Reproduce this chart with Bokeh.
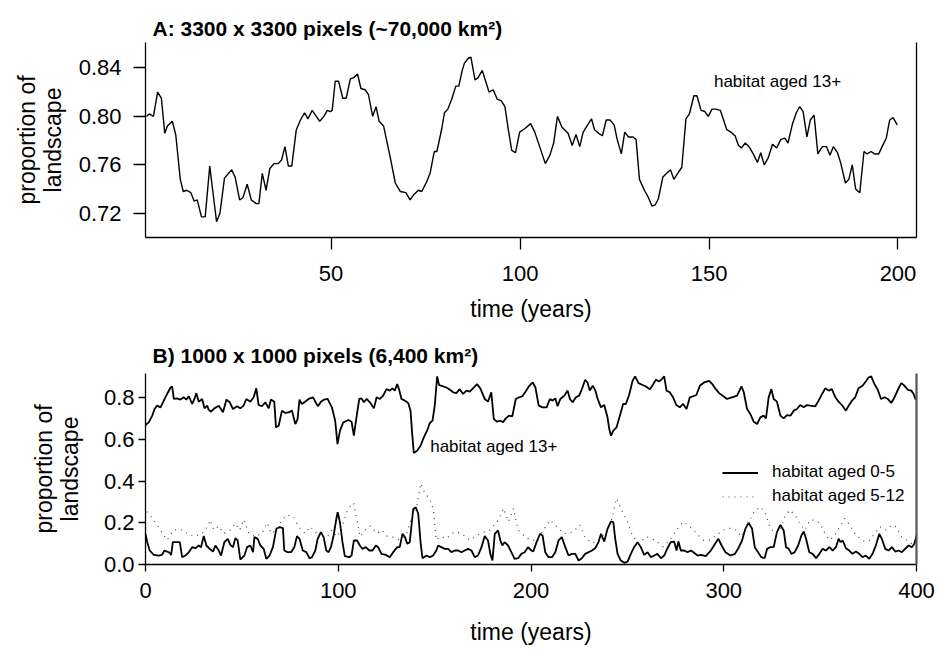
from bokeh.plotting import figure
from bokeh.models import FixedTicker, LinearAxis, Label, Legend, LegendItem, Range1d, PrintfTickFormatter
from bokeh.layouts import column
from bokeh.embed import file_html
from bokeh.resources import INLINE

FONT = "Liberation Sans"

# ---------------- Panel A data: habitat aged 13+ (3300 x 3300 pixels) ----------------
years_a = [1.2, 1.9, 3.0, 4.1, 5.1, 6.0, 6.7, 8.0, 8.9, 10.1, 10.9, 11.8, 12.9, 13.8, 14.6, 15.7, 16.7,
           17.9, 19.7, 20.6, 21.8, 23.7, 24.6, 25.8, 26.7, 27.8, 28.9, 30.2, 30.9, 31.8, 32.8, 33.8,
           34.9, 36.0, 36.9, 37.8, 38.7, 39.6, 40.8, 41.9, 43.0, 43.9, 45.0, 46.1, 47.0, 48.1, 49.0,
           49.8, 50.3, 51.1, 52.0, 53.1, 54.0, 55.1, 56.0, 57.0, 57.9, 59.0, 59.9, 61.0, 61.9, 62.7,
           63.9, 65.6, 67.0, 68.3, 69.8, 70.9, 71.8, 73.1, 74.0, 75.3, 76.2, 77.3, 78.0, 79.3, 80.0,
           80.9, 81.9, 83.0, 83.8, 84.7, 85.3, 86.3, 87.0, 88.1, 88.9, 90.0, 90.9, 91.8, 92.9, 94.0,
           95.0, 96.0, 96.9, 97.8, 98.8, 99.9, 101.3, 102.8, 103.9, 105.3, 106.7, 107.9, 108.9, 109.9,
           111.1, 112.7, 113.8, 114.8, 115.8, 116.7, 117.7, 118.9, 119.7, 120.8, 121.8, 122.8, 123.8,
           124.9, 125.7, 126.8, 127.7, 128.7, 129.9, 130.7, 131.6, 132.9, 133.8, 134.9, 135.8, 136.6,
           137.8, 138.8, 139.8, 140.7, 141.7, 142.8, 143.9, 144.8, 146.0, 146.8, 147.9, 148.9, 149.8,
           150.8, 151.8, 153.0, 154.7, 155.8, 156.9, 157.8, 158.6, 159.6, 160.6, 161.7, 162.8, 163.7,
           164.6, 165.7, 166.8, 167.9, 169.0, 170.1, 170.9, 172.1, 173.1, 174.0, 174.9, 175.9, 176.8,
           177.8, 178.8, 180.0, 181.1, 182.0, 182.9, 184.0, 184.8, 186.1, 187.0, 187.9, 188.8, 189.9,
           191.0, 191.8, 192.9, 193.8, 194.9, 195.8, 196.9, 197.8, 198.7, 199.8]
prop_a = [0.800, 0.802, 0.800, 0.820, 0.815, 0.786, 0.792, 0.796, 0.785, 0.748, 0.738, 0.739, 0.737,
          0.730, 0.731, 0.717, 0.717, 0.759, 0.713, 0.720, 0.749, 0.756, 0.750, 0.731, 0.733, 0.744,
          0.731, 0.728, 0.728, 0.753, 0.739, 0.757, 0.761, 0.761, 0.764, 0.775, 0.759, 0.759, 0.789,
          0.797, 0.803, 0.798, 0.805, 0.800, 0.796, 0.800, 0.805, 0.804, 0.805, 0.829, 0.829, 0.815,
          0.815, 0.831, 0.832, 0.835, 0.823, 0.822, 0.818, 0.800, 0.808, 0.796, 0.792, 0.767, 0.745,
          0.738, 0.737, 0.731, 0.735, 0.739, 0.738, 0.746, 0.753, 0.771, 0.771, 0.790, 0.803, 0.806,
          0.814, 0.825, 0.825, 0.838, 0.844, 0.848, 0.849, 0.830, 0.832, 0.838, 0.829, 0.820, 0.822,
          0.814, 0.813, 0.808, 0.789, 0.772, 0.770, 0.787, 0.790, 0.794, 0.787, 0.774, 0.761, 0.768,
          0.778, 0.800, 0.791, 0.786, 0.776, 0.785, 0.775, 0.787, 0.792, 0.798, 0.789, 0.786, 0.784,
          0.797, 0.797, 0.793, 0.781, 0.769, 0.787, 0.783, 0.783, 0.781, 0.748, 0.739, 0.734, 0.726,
          0.727, 0.732, 0.750, 0.753, 0.756, 0.748, 0.753, 0.758, 0.798, 0.802, 0.817, 0.817, 0.805,
          0.804, 0.800, 0.806, 0.806, 0.805, 0.789, 0.787, 0.784, 0.776, 0.774, 0.778, 0.775, 0.769,
          0.762, 0.770, 0.760, 0.766, 0.777, 0.774, 0.781, 0.782, 0.778, 0.794, 0.803, 0.808, 0.804,
          0.783, 0.797, 0.801, 0.769, 0.775, 0.775, 0.768, 0.775, 0.770, 0.762, 0.745, 0.748, 0.760,
          0.740, 0.737, 0.771, 0.769, 0.771, 0.769, 0.769, 0.775, 0.782, 0.797, 0.799, 0.793]

# ---------------- Panel B data (1000 x 1000 pixels) ----------------
years_b_old = [0, 1.7, 3.5, 4.7, 6.0, 7.8, 9.5, 11.2, 13.0, 13.8, 14.7, 16.4, 18.1, 19.9, 21.2, 22.5,
               24.2, 25.4, 26.4, 27.6, 29.4, 30.6, 32.0, 32.8, 34.0, 35.7, 38.0, 40.2, 42.0, 43.7, 45.4,
               47.5, 49.2, 50.9, 52.3, 54.4, 56.1, 57.5, 58.7, 60.4, 62.2, 63.9, 65.1, 66.8, 67.7, 69.1,
               70.8, 72.5, 74.3, 76.0, 77.7, 78.9, 79.9, 81.1, 82.8, 84.6, 86.9, 88.1, 89.5, 91.0, 92.7,
               94.5, 95.5, 96.7, 98.4, 99.6, 100.9, 102.6, 105.2, 106.9, 108.1, 109.2, 110.9, 112.0,
               113.3, 114.7, 116.7, 118.5, 119.9, 121.6, 123.3, 125.0, 126.7, 128.1, 129.3, 130.6,
               131.6, 132.8, 134.6, 136.3, 137.5, 138.3, 139.2, 140.9, 142.7, 144.4, 146.1, 147.5,
               148.9, 150.1, 151.3, 152.3, 154.4, 156.1, 157.9, 159.6, 161.3, 163.0, 164.8, 166.5,
               168.2, 169.9, 172.0, 173.7, 176.0, 177.7, 179.4, 180.7, 182.4, 184.1, 185.5, 186.9,
               188.6, 190.3, 192.1, 193.8, 195.5, 197.3, 199.0, 200.9, 202.3, 204.0, 206.0, 208.1,
               209.8, 211.2, 212.6, 213.8, 215.2, 217.3, 219.0, 220.2, 221.6, 223.3, 225.0, 226.4,
               228.1, 229.3, 230.5, 232.0, 233.4, 234.6, 236.3, 238.0, 239.7, 240.6, 241.5, 242.7,
               244.4, 246.1, 247.8, 249.2, 250.9, 252.7, 254.0, 255.8, 257.9, 259.6, 261.7, 263.4,
               264.8, 266.5, 267.9, 269.1, 270.3, 272.0, 273.7, 275.4, 277.2, 278.9, 280.7, 282.4,
               284.1, 285.8, 287.6, 289.8, 292.4, 294.1, 295.9, 297.6, 299.3, 301.7, 304.3, 306.9,
               309.2, 310.4, 312.1, 313.8, 315.5, 317.3, 319.0, 320.7, 321.9, 323.3, 324.7, 325.9,
               327.6, 329.4, 331.1, 332.8, 334.6, 336.3, 338.0, 339.7, 341.5, 343.2, 344.9, 347.5,
               349.2, 351.0, 352.7, 354.4, 356.1, 357.9, 359.6, 361.3, 363.4, 364.8, 366.5, 368.2,
               369.9, 372.0, 373.7, 375.1, 376.5, 378.2, 379.9, 381.6, 383.4, 385.1, 386.9, 388.6,
               390.3, 392.1, 393.8, 395.5, 397.3, 398.5, 399.6]
prop_b_old = [0.668, 0.681, 0.713, 0.745, 0.761, 0.753, 0.785, 0.817, 0.848, 0.853, 0.793, 0.796, 0.790,
              0.801, 0.790, 0.806, 0.769, 0.793, 0.821, 0.780, 0.793, 0.748, 0.761, 0.741, 0.732, 0.748,
              0.761, 0.729, 0.790, 0.777, 0.745, 0.758, 0.748, 0.761, 0.793, 0.780, 0.801, 0.844, 0.764,
              0.758, 0.777, 0.748, 0.790, 0.780, 0.657, 0.665, 0.737, 0.726, 0.729, 0.737, 0.673, 0.697,
              0.790, 0.769, 0.780, 0.793, 0.801, 0.780, 0.758, 0.780, 0.790, 0.793, 0.774, 0.753, 0.689,
              0.577, 0.641, 0.681, 0.692, 0.684, 0.617, 0.689, 0.793, 0.796, 0.777, 0.793, 0.774, 0.748,
              0.801, 0.793, 0.809, 0.840, 0.833, 0.844, 0.833, 0.864, 0.837, 0.793, 0.785, 0.774, 0.737,
              0.633, 0.534, 0.545, 0.569, 0.609, 0.641, 0.678, 0.689, 0.764, 0.901, 0.860, 0.853, 0.848,
              0.837, 0.825, 0.821, 0.840, 0.817, 0.833, 0.828, 0.844, 0.864, 0.844, 0.793, 0.780, 0.825,
              0.697, 0.684, 0.689, 0.681, 0.700, 0.713, 0.710, 0.793, 0.801, 0.806, 0.830, 0.855, 0.872,
              0.848, 0.761, 0.753, 0.753, 0.793, 0.785, 0.796, 0.758, 0.793, 0.809, 0.833, 0.793, 0.777,
              0.801, 0.809, 0.840, 0.885, 0.872, 0.833, 0.856, 0.833, 0.793, 0.753, 0.764, 0.705, 0.649,
              0.617, 0.641, 0.657, 0.713, 0.769, 0.769, 0.812, 0.880, 0.901, 0.869, 0.860, 0.853, 0.840,
              0.864, 0.885, 0.877, 0.888, 0.901, 0.833, 0.825, 0.801, 0.764, 0.753, 0.769, 0.745, 0.801,
              0.806, 0.812, 0.856, 0.872, 0.880, 0.864, 0.840, 0.821, 0.810, 0.793, 0.801, 0.809, 0.853,
              0.825, 0.745, 0.721, 0.684, 0.673, 0.705, 0.713, 0.700, 0.801, 0.840, 0.793, 0.780, 0.713,
              0.700, 0.716, 0.713, 0.737, 0.745, 0.764, 0.753, 0.764, 0.761, 0.758, 0.785, 0.817, 0.844,
              0.833, 0.840, 0.801, 0.780, 0.764, 0.737, 0.761, 0.785, 0.801, 0.844, 0.856, 0.877, 0.896,
              0.901, 0.864, 0.837, 0.793, 0.801, 0.793, 0.774, 0.801, 0.837, 0.869, 0.856, 0.837, 0.833,
              0.817, 0.790]

years_b_young = [0, 0.9, 2.2, 4.3, 6.9, 8.6, 9.8, 11.2, 12.6, 13.3, 14.2, 16.1, 17.8, 19.0, 20.7, 22.5,
                 24.2, 25.9, 27.6, 28.8, 30.2, 31.6, 33.3, 35.0, 36.3, 38.0, 39.2, 40.9, 42.7, 44.0,
                 45.4, 46.6, 47.8, 49.2, 51.3, 52.7, 54.4, 55.8, 56.5, 58.2, 59.6, 61.3, 62.7, 64.4,
                 66.1, 67.9, 69.6, 71.3, 72.0, 73.7, 75.5, 77.2, 78.6, 79.9, 81.6, 83.4, 85.1, 86.4,
                 88.1, 89.3, 91.0, 92.4, 93.8, 95.0, 96.2, 97.6, 99.0, 99.7, 100.9, 102.2, 103.4, 105.7,
                 106.9, 108.1, 109.8, 111.2, 112.6, 114.3, 116.1, 117.8, 119.5, 120.7, 122.4, 124.7,
                 126.7, 128.5, 130.6, 131.9, 133.3, 134.6, 135.8, 137.1, 138.9, 140.2, 141.5, 142.7,
                 143.7, 145.8, 147.5, 149.2, 150.9, 151.8, 153.5, 155.3, 157.0, 158.7, 160.5, 162.2,
                 163.9, 165.6, 167.4, 169.1, 170.8, 172.5, 174.3, 176.0, 177.7, 178.9, 180.0, 181.2,
                 182.9, 184.1, 185.1, 186.3, 188.1, 189.8, 191.5, 193.3, 195.0, 196.7, 198.4, 200.2,
                 201.2, 202.9, 204.7, 206.0, 207.4, 209.1, 210.9, 212.6, 214.3, 216.0, 217.8, 219.5,
                 221.2, 223.0, 224.7, 226.4, 228.1, 229.9, 231.6, 233.3, 235.0, 236.3, 238.0, 239.7,
                 241.5, 242.7, 243.7, 244.9, 246.6, 248.4, 250.1, 251.8, 253.5, 255.3, 257.0, 258.7,
                 260.5, 262.2, 263.9, 265.6, 267.4, 269.1, 270.8, 272.5, 274.3, 275.5, 276.5, 277.7,
                 279.4, 281.2, 282.9, 284.6, 286.4, 288.1, 290.7, 293.3, 295.5, 297.2, 298.9, 300.9,
                 303.5, 305.8, 307.4, 309.5, 311.2, 312.9, 314.7, 316.1, 317.8, 319.5, 321.2, 322.5,
                 324.2, 325.9, 327.6, 329.4, 331.1, 332.3, 333.7, 335.1, 336.8, 338.6, 340.3, 341.5,
                 342.7, 344.4, 346.1, 347.9, 349.6, 351.3, 353.0, 354.8, 356.5, 358.2, 359.6, 360.6,
                 361.7, 363.4, 365.1, 366.8, 368.6, 370.3, 372.0, 373.7, 375.5, 377.2, 378.9, 380.7,
                 382.0, 383.8, 385.5, 387.2, 389.0, 390.7, 392.4, 394.1, 395.9, 397.6, 398.9, 400.0]
prop_b_young = [0.147, 0.107, 0.067, 0.046, 0.043, 0.046, 0.067, 0.062, 0.056, 0.046, 0.107, 0.107,
                0.107, 0.035, 0.043, 0.059, 0.083, 0.078, 0.091, 0.083, 0.136, 0.091, 0.075, 0.062,
                0.091, 0.067, 0.043, 0.107, 0.123, 0.094, 0.083, 0.126, 0.115, 0.024, 0.043, 0.083,
                0.091, 0.059, 0.131, 0.123, 0.091, 0.075, 0.027, 0.043, 0.083, 0.171, 0.179, 0.174,
                0.067, 0.059, 0.059, 0.083, 0.136, 0.123, 0.067, 0.059, 0.030, 0.035, 0.067, 0.123,
                0.155, 0.131, 0.067, 0.059, 0.083, 0.139, 0.219, 0.251, 0.201, 0.107, 0.040, 0.035,
                0.043, 0.115, 0.115, 0.091, 0.075, 0.083, 0.067, 0.067, 0.091, 0.083, 0.051, 0.046,
                0.035, 0.059, 0.083, 0.083, 0.147, 0.131, 0.099, 0.107, 0.266, 0.274, 0.243, 0.107,
                0.030, 0.043, 0.035, 0.043, 0.067, 0.091, 0.083, 0.075, 0.075, 0.059, 0.067, 0.067,
                0.059, 0.067, 0.075, 0.067, 0.035, 0.043, 0.083, 0.136, 0.115, 0.051, 0.019, 0.147,
                0.163, 0.115, 0.091, 0.107, 0.091, 0.059, 0.027, 0.030, 0.051, 0.059, 0.083, 0.067,
                0.062, 0.107, 0.147, 0.139, 0.059, 0.035, 0.035, 0.059, 0.115, 0.131, 0.083, 0.043,
                0.051, 0.051, 0.019, 0.030, 0.051, 0.059, 0.067, 0.078, 0.107, 0.147, 0.110, 0.171,
                0.206, 0.203, 0.123, 0.051, 0.019, 0.008, 0.014, 0.051, 0.083, 0.107, 0.083, 0.046,
                0.059, 0.035, 0.043, 0.051, 0.030, 0.043, 0.078, 0.107, 0.110, 0.067, 0.110, 0.067,
                0.067, 0.059, 0.067, 0.056, 0.043, 0.046, 0.040, 0.067, 0.099, 0.123, 0.091, 0.059,
                0.043, 0.051, 0.075, 0.115, 0.171, 0.200, 0.171, 0.083, 0.059, 0.035, 0.030, 0.075,
                0.083, 0.083, 0.155, 0.190, 0.163, 0.083, 0.075, 0.051, 0.059, 0.091, 0.139, 0.158,
                0.123, 0.059, 0.051, 0.030, 0.051, 0.075, 0.067, 0.083, 0.067, 0.083, 0.123, 0.107,
                0.115, 0.078, 0.067, 0.051, 0.062, 0.051, 0.035, 0.043, 0.027, 0.051, 0.091, 0.147,
                0.123, 0.075, 0.067, 0.083, 0.062, 0.067, 0.059, 0.075, 0.091, 0.083, 0.099, 0.139]

years_b_mid = [0.8, 4.3, 7.8, 11.2, 14.6, 18.1, 21.6, 25.0, 28.5, 31.1, 33.7, 35.4, 38.0, 40.6, 44.0,
               46.6, 48.9, 51.0, 53.6, 57.0, 60.5, 63.1, 65.1, 68.2, 70.8, 73.4, 76.8, 79.4, 82.9,
               85.5, 88.1, 90.7, 94.1, 96.7, 99.3, 101.9, 104.5, 107.1, 108.0, 109.7, 111.4, 114.0,
               116.6, 120.1, 122.7, 125.3, 128.6, 132.1, 135.6, 138.1, 140.7, 142.8, 145.0, 147.7,
               149.4, 150.8, 152.8, 156.3, 158.9, 161.5, 164.9, 168.4, 173.6, 178.8, 183.1, 185.7,
               188.3, 190.9, 193.4, 196.0, 199.5, 203.0, 206.4, 209.9, 213.3, 216.8, 220.2, 223.7,
               225.4, 228.0, 231.5, 234.9, 238.4, 241.8, 244.4, 247.0, 249.6, 252.2, 255.6, 260.0,
               264.3, 268.6, 272.0, 275.5, 279.0, 282.4, 285.9, 289.3, 292.8, 296.2, 299.7, 303.1,
               306.6, 309.2, 311.8, 315.3, 318.7, 321.3, 323.9, 326.5, 329.1, 331.7, 334.3, 336.9,
               339.5, 342.1, 344.7, 347.3, 349.9, 352.5, 355.1, 357.7, 360.3, 362.8, 365.4, 368.0,
               370.6, 373.2, 375.8, 378.4, 381.0, 384.4, 387.0, 389.6, 392.2, 394.8, 397.4, 400.0]
prop_b_mid = [0.253, 0.213, 0.165, 0.117, 0.165, 0.168, 0.149, 0.136, 0.141, 0.165, 0.213, 0.165,
              0.184, 0.149, 0.165, 0.197, 0.165, 0.216, 0.149, 0.133, 0.149, 0.200, 0.149, 0.165,
              0.213, 0.237, 0.229, 0.181, 0.149, 0.181, 0.157, 0.117, 0.130, 0.165, 0.133, 0.181,
              0.253, 0.293, 0.293, 0.213, 0.133, 0.165, 0.184, 0.149, 0.165, 0.136, 0.130, 0.117,
              0.149, 0.229, 0.277, 0.389, 0.341, 0.309, 0.261, 0.117, 0.133, 0.125, 0.149, 0.157,
              0.141, 0.117, 0.149, 0.165, 0.213, 0.269, 0.205, 0.269, 0.165, 0.141, 0.117, 0.117,
              0.165, 0.213, 0.181, 0.149, 0.149, 0.173, 0.189, 0.133, 0.101, 0.117, 0.149, 0.213,
              0.317, 0.261, 0.213, 0.149, 0.101, 0.133, 0.117, 0.085, 0.117, 0.165, 0.205, 0.181,
              0.149, 0.117, 0.117, 0.141, 0.165, 0.173, 0.165, 0.133, 0.181, 0.245, 0.277, 0.253,
              0.181, 0.149, 0.165, 0.229, 0.261, 0.237, 0.197, 0.165, 0.213, 0.213, 0.197, 0.149,
              0.117, 0.141, 0.181, 0.221, 0.189, 0.149, 0.125, 0.109, 0.117, 0.149, 0.181, 0.165,
              0.189, 0.181, 0.133, 0.117, 0.101, 0.117]

title_a = "A: 3300 x 3300 pixels (~70,000 km\u00b2)"
title_b = "B) 1000 x 1000 pixels (6,400 km\u00b2)"
ylabel = "proportion of\nlandscape"
xlabel = "time (years)"
ticks_ax = [50, 100, 150, 200]
ticks_ay = [0.72, 0.76, 0.80, 0.84]
ticks_bx = [0, 100, 200, 300, 400]
ticks_by = [0.0, 0.2, 0.4, 0.6, 0.8]


def base_fig(height, xr, yr, left, right, top, bottom, title):
    p = figure(width=940, height=height, x_range=Range1d(*xr), y_range=Range1d(*yr),
               output_backend="svg", toolbar_location=None,
               min_border_left=left, min_border_right=right, min_border_top=top,
               min_border_bottom=bottom)
    p.outline_line_color = None
    p.xgrid.grid_line_color = None
    p.ygrid.grid_line_color = None
    p.background_fill_color = "white"
    p.border_fill_color = "white"
    p.title.text = title
    p.title.text_font = FONT
    p.title.text_font_size = "21px"
    p.title.text_font_style = "bold"
    p.title.align = "left"
    p.title.offset = 7
    p.title.text_color = "black"
    return p


def style_axes(p, tick_len, xt, yt, yfmt, xl_stand, yl_stand, xlab_stand, ylab_stand):
    for ax in p.xaxis + p.yaxis:
        ax.axis_line_color = "black"
        ax.axis_line_width = 1.3
        ax.major_tick_line_color = "black"
        ax.major_tick_line_width = 1.3
        ax.major_tick_out = tick_len
        ax.major_tick_in = 0
        ax.minor_tick_line_color = None
        ax.major_label_text_font = FONT
        ax.major_label_text_font_size = "22px"
        ax.major_label_text_color = "black"
        ax.axis_label_text_font = FONT
        ax.axis_label_text_font_size = "23px"
        ax.axis_label_text_font_style = "normal"
        ax.axis_label_text_color = "black"
        ax.axis_label_text_line_height = 1.0
    p.xaxis.ticker = FixedTicker(ticks=xt)
    p.yaxis.ticker = FixedTicker(ticks=yt)
    p.yaxis.formatter = PrintfTickFormatter(format=yfmt)
    p.xaxis.axis_label = xlabel
    p.yaxis.axis_label = ylabel
    p.xaxis.major_label_standoff = xl_stand
    p.yaxis.major_label_standoff = yl_stand
    p.xaxis.axis_label_standoff = xlab_stand
    p.yaxis.axis_label_standoff = ylab_stand


def right_spine(p, width, color):
    ax = LinearAxis(ticker=FixedTicker(ticks=[]), axis_line_color=color, axis_line_width=width,
                    major_tick_line_color=None, minor_tick_line_color=None,
                    major_label_text_font_size="0px")
    p.add_layout(ax, "right")


# ---------------- Panel A ----------------
pa = base_fig(325, (0.9, 204.9), (0.700, 0.861), 143, 24, 42, 88, title_a)
pa.title.standoff = 6
style_axes(pa, 12, ticks_ax, ticks_ay, "%.2f", 16, 12, 12, 10)
right_spine(pa, 1.3, "black")
pa.line(years_a, prop_a, line_color="black", line_width=1.4)
pa.add_layout(Label(x=151.3, y=0.8285, text="habitat aged 13+", text_font=FONT,
                    text_font_size="17px", text_baseline="middle", text_color="black"))

# ---------------- Panel B ----------------
pb = base_fig(325, (0, 400), (0, 0.915), 145, 23, 48, 86, title_b)
pb.title.standoff = 14
style_axes(pb, 7, ticks_bx, ticks_by, "%.1f", 11, 4, 18, 18)
right_spine(pb, 2.2, "#555555")
r_old = pb.line(years_b_old, prop_b_old, line_color="black", line_width=1.8)
r_young = pb.line(years_b_young, prop_b_young, line_color="black", line_width=1.8)
r_mid = pb.line(years_b_mid, prop_b_mid, line_color="#444444", line_width=1.2, line_dash="1 5")
pb.add_layout(Label(x=147.7, y=0.565, text="habitat aged 13+", text_font=FONT,
                    text_font_size="17px", text_baseline="middle", text_color="black"))

legend = Legend(items=[LegendItem(label="habitat aged 0-5", renderers=[r_young]),
                       LegendItem(label="habitat aged 5-12", renderers=[r_mid])],
                location=(577, 58), orientation="vertical")
legend.label_text_font = FONT
legend.label_text_font_size = "17px"
legend.label_text_color = "black"
legend.glyph_width = 36
legend.glyph_height = 17
legend.label_height = 17
legend.label_standoff = 14
legend.spacing = 4
legend.padding = 0
legend.margin = 0
legend.border_line_color = None
legend.background_fill_alpha = 0
pb.add_layout(legend, "center")

layout = column(pa, pb, spacing=0)
open("out.html", "w").write(file_html(layout, INLINE))
